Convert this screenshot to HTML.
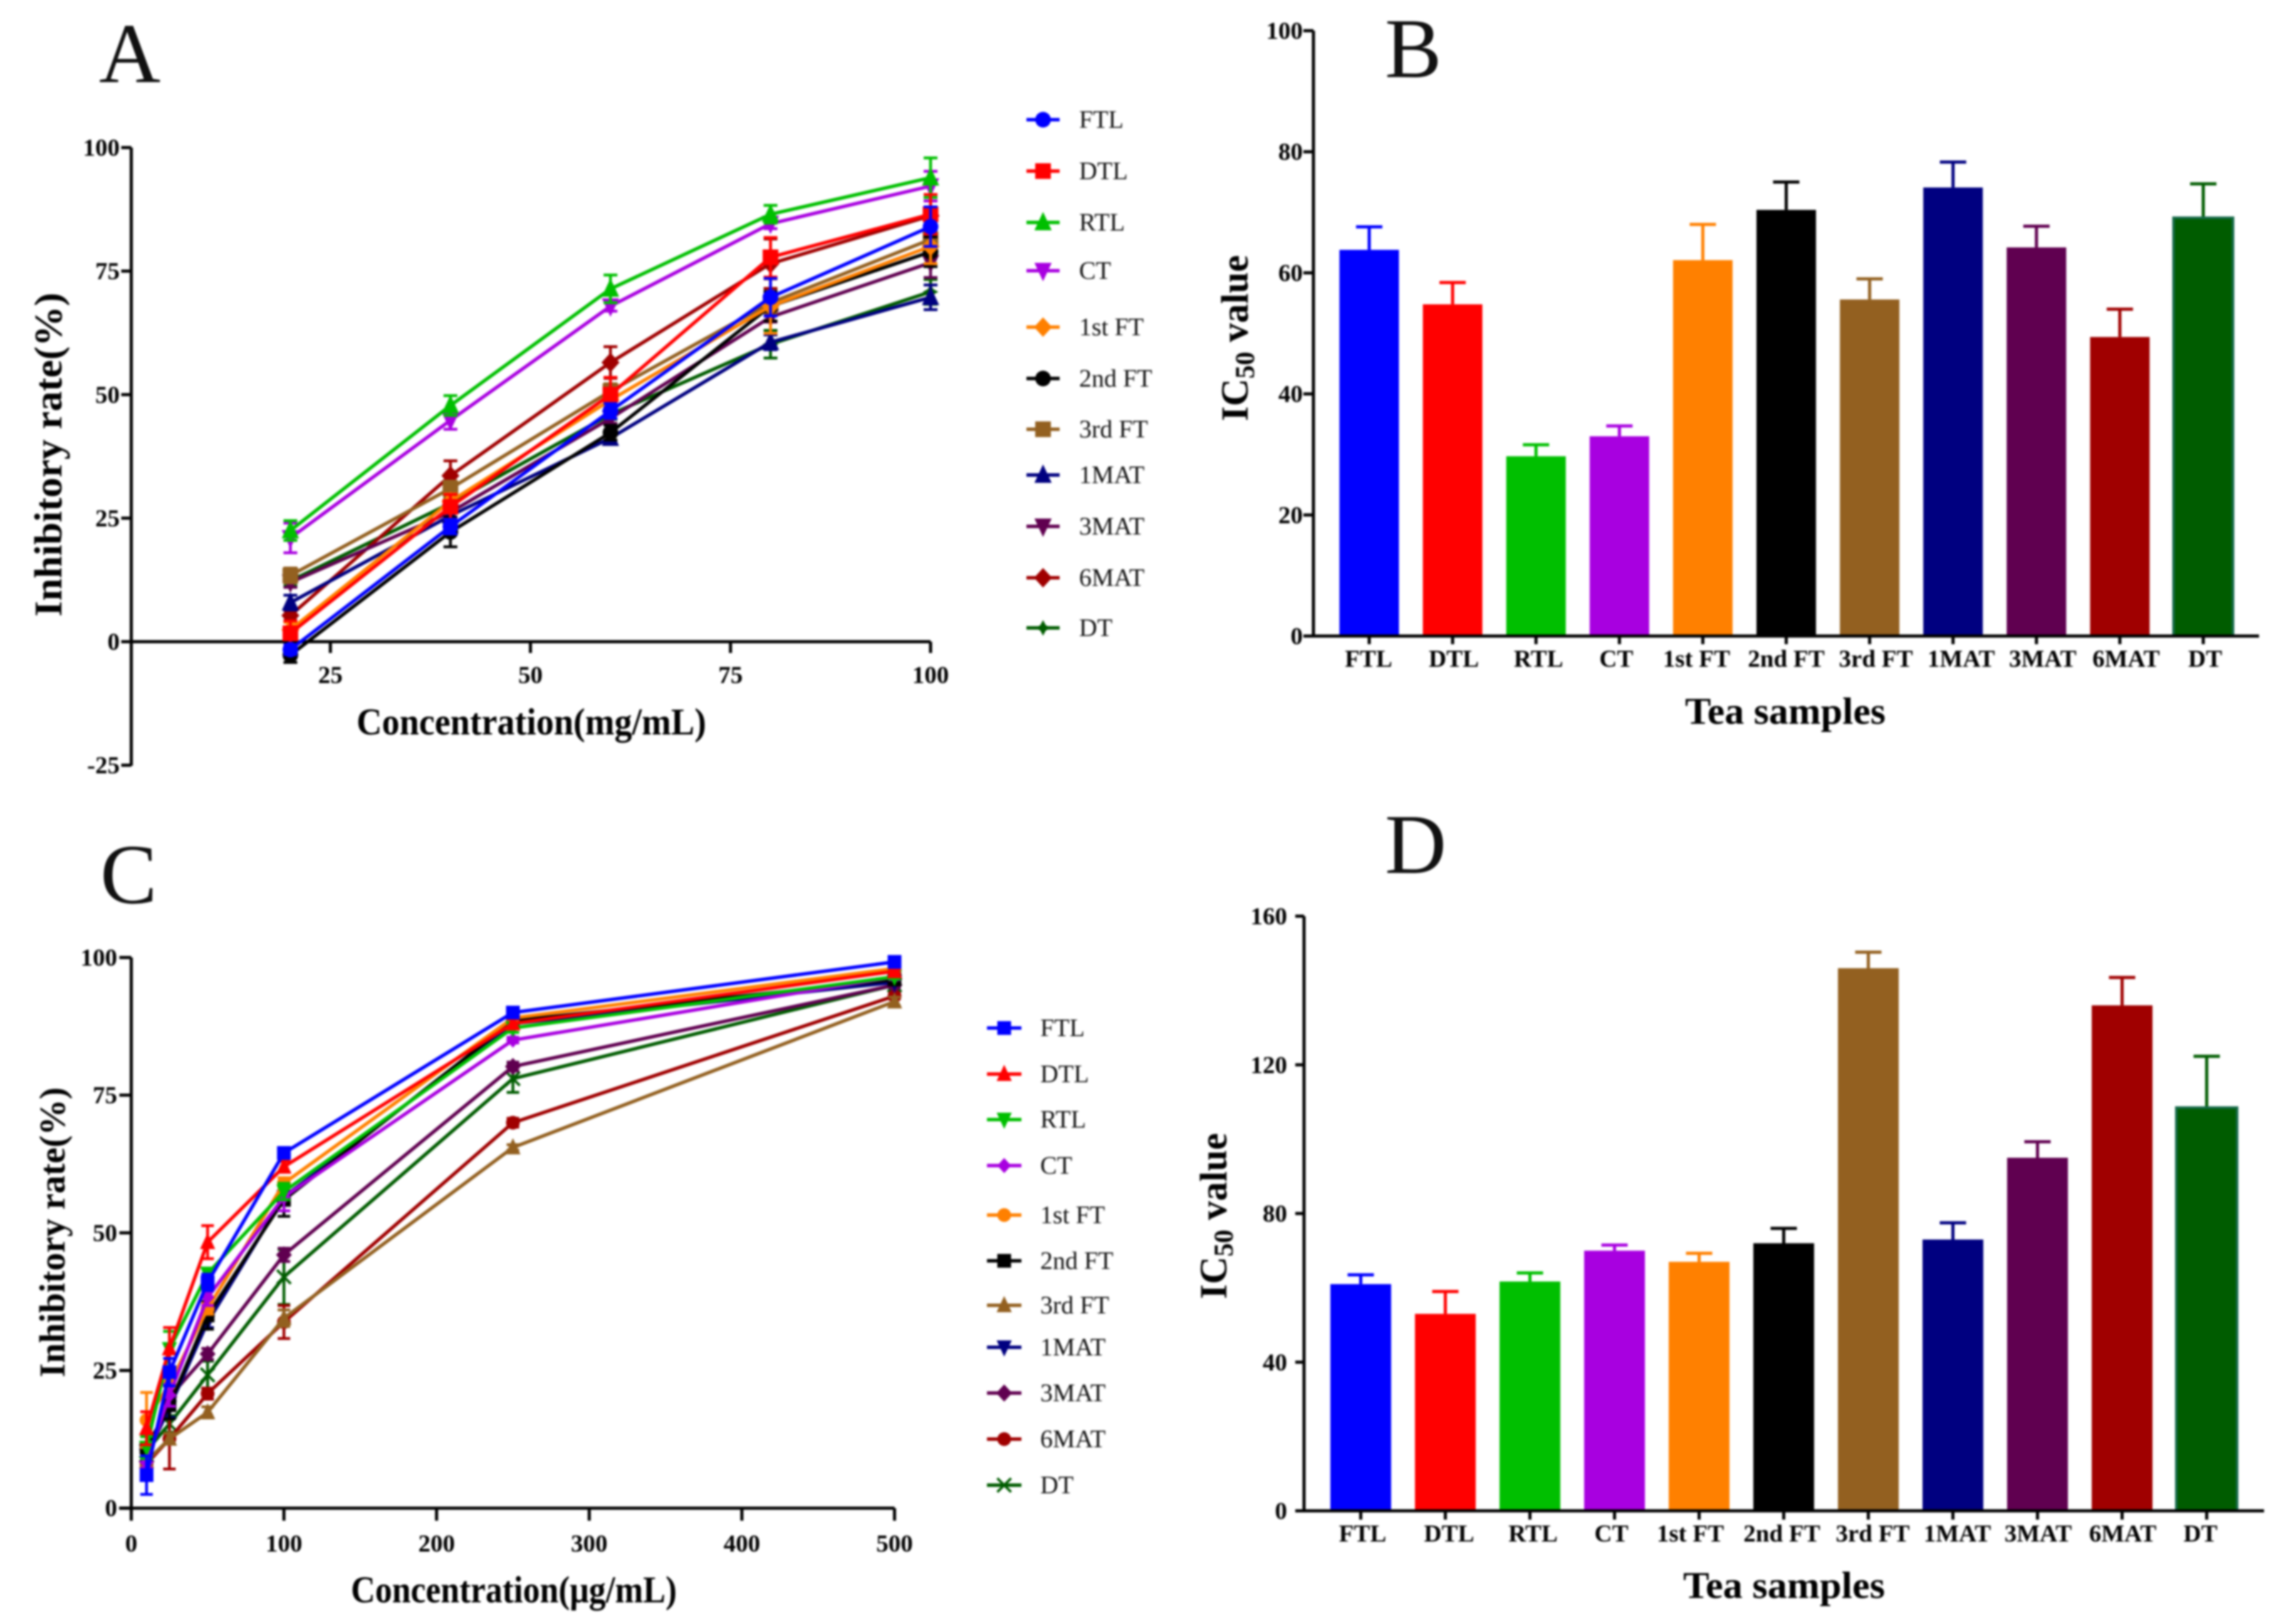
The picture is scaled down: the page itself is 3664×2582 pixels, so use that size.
<!DOCTYPE html>
<html lang="en">
<head>
<meta charset="utf-8">
<title>Inhibitory rate and IC50 charts</title>
<style>
html,body{margin:0;padding:0;background:#fff;}
#figure{display:block;width:3664px;height:2582px;filter:blur(1.5px);}
text{font-family:"Liberation Serif",serif;fill:#000;}
.tick{font-size:39px;font-weight:700;}
.title{font-size:60px;font-weight:700;}
.legend{font-size:40px;font-weight:400;fill:#111;}
.letter{font-size:136px;font-weight:400;fill:#111;}
</style>
</head>
<body>
<svg id="figure" xmlns="http://www.w3.org/2000/svg" width="3664" height="2582" viewBox="0 0 3664 2582">
  <rect x="0" y="0" width="3664" height="2582" fill="#fff"/>
  <text class="letter" x="158" y="131">A</text>
  <text class="letter" x="2210" y="123">B</text>
  <text class="letter" x="160" y="1441">C</text>
  <text class="letter" x="2210" y="1393">D</text>

  <text class="title" x="569" y="1172" textLength="558" lengthAdjust="spacingAndGlyphs">Concentration(mg/mL)</text>
  <text class="title" style="font-size:62px" transform="translate(98 984) rotate(-90)" textLength="517" lengthAdjust="spacingAndGlyphs">Inhibitory rate(%)</text>

  <text class="title" x="2689" y="1155" textLength="320" lengthAdjust="spacingAndGlyphs">Tea samples</text>
  <text class="title" style="font-size:61px" transform="translate(1991 672) rotate(-90)">IC<tspan font-size="43" dy="10">50</tspan><tspan dy="-10"> value</tspan></text>

  <text class="title" x="560" y="2557" textLength="520" lengthAdjust="spacingAndGlyphs">Concentration(μg/mL)</text>
  <text class="title" style="font-size:58px" transform="translate(103 2198) rotate(-90)" textLength="463" lengthAdjust="spacingAndGlyphs">Inhibitory rate(%)</text>

  <text class="title" x="2686" y="2550" textLength="322" lengthAdjust="spacingAndGlyphs">Tea samples</text>
  <text class="title" style="font-size:61px" transform="translate(1957 2073) rotate(-90)">IC<tspan font-size="43" dy="10">50</tspan><tspan dy="-10"> value</tspan></text>
</svg>
<script>
/* ---------- data ---------- */
const sampleNames = ['FTL','DTL','RTL','CT','1st FT','2nd FT','3rd FT','1MAT','3MAT','6MAT','DT'];

/* Panel A */
const aConcentrations = [20,40,60,80,100];
const aXTicks = [25,50,75,100];
const aYTicks = [100,75,50,25,0,-25];
const aFTL = [-1.6,23.3,46.7,69.7,84];
const aDTL = [1.7,27.3,50,77.8,86.5];
const aRTL = [22.5,47.8,71.4,86.5,93.9];
const aCT = [21,44.8,67.9,84.6,92.2];
const a1stFT = [2.4,28.4,48.9,67.9,80];
const a2ndFT = [-2.7,22.2,42.3,67.9,78.9];
const a3rdFT = [13.4,31,50.7,68.6,81.4];
const a1MAT = [7.9,25.5,41.2,60.6,69.7];
const a3MAT = [12,26.2,45.2,65.7,76.7];
const a6MAT = [5.3,33.6,56.5,76.5,86.2];
const aDT = [12.3,28,46,60.2,70.8];
const aFTLErr = [1,1.5,1.5,3.8,4];
const aDTLErr = [2.5,2.5,3.5,4,4];
const aRTLErr = [2,2,2.8,1.8,4];
const aCTErr = [3,1.8,1,1,3];
const a1stFTErr = [1.5,1.5,1.5,5.5,3.5];
const a2ndFTErr = [1.5,3,1.5,3,3];
const a3rdFTErr = [1.5,1.5,1.5,2,3];
const a1MATErr = [1.5,1.5,1,1.5,2.5];
const a3MATErr = [1,1,1,1,3];
const a6MATErr = [1,3,3.2,5,3];
const aDTErr = [1,1,1,2.8,2.5];

/* Panel B */
const bYTicks = [0,20,40,60,80,100];
const bValues = [63.8,54.8,29.7,33,62.1,70.4,55.6,74.1,64.2,49.4,69.1];
const bUpper = [67.6,58.4,31.6,34.7,68,75,59,78.3,67.7,54,74.7];

/* Panel C */
const cConcentrations = [10,25,50,100,250,500];
const cXTicks = [0,100,200,300,400,500];
const cYTicks = [0,25,50,75,100];
const cFTL = [6,24.7,41,64.5,90,99.2];
const cDTL = [14.5,29,48.3,62,88,97.5];
const cRTL = [11,28.9,42.6,57.5,87.2,96.5];
const cCT = [8.3,20.5,38.3,56.5,85,96.5];
const c1stFT = [16,22.5,36.2,59,89,98];
const c2ndFT = [11,18.7,35,56,88.5,96];
const c3rdFT = [8.5,12.6,17.4,34.5,65.5,92];
const c1MAT = [9.5,18.3,33.8,56.5,88,95.5];
const c3MAT = [8.5,20.2,28,46,80.2,95];
const c6MAT = [8,12.6,20.8,33.8,70,93];
const cDT = [10.4,15.3,24.2,42,78,95];
const cFTLErr = [3.5,2.5,1.5,0.8,0.8,0.5];
const cDTLErr = [3,3.8,3,1,0.8,0.3];
const cRTLErr = [2,3.2,1,1.5,0.8,0.4];
const cCTErr = [1,2,1.5,2.5,0.5,0.5];
const c1stFTErr = [5,2,1,1,0.5,0.3];
const c2ndFTErr = [2,2.5,2.5,3,0.5,0.5];
const c3rdFTErr = [0.5,1,1,1.5,0.5,0.8];
const c1MATErr = [1,1.8,1,1.5,0.5,0.5];
const c3MATErr = [0.5,1,1,1.2,0.8,0.5];
const c6MATErr = [0.5,5.5,1,3,0.8,0.5];
const cDTErr = [1,1.5,2.5,5,2.5,0.5];

/* Panel D */
const dYTicks = [0,40,80,120,160];
const dValues = [61,53,61.7,70,67,72,146,73,95,136,108.5];
const dUpper = [63.5,59,64,71.5,69.3,76,150.3,77.5,99.3,143.5,122.3];

const aMeans = [aFTL,aDTL,aRTL,aCT,a1stFT,a2ndFT,a3rdFT,a1MAT,a3MAT,a6MAT,aDT];
const aErrors = [aFTLErr,aDTLErr,aRTLErr,aCTErr,a1stFTErr,a2ndFTErr,a3rdFTErr,a1MATErr,a3MATErr,a6MATErr,aDTErr];
const cMeans = [cFTL,cDTL,cRTL,cCT,c1stFT,c2ndFT,c3rdFT,c1MAT,c3MAT,c6MAT,cDT];
const cErrors = [cFTLErr,cDTLErr,cRTLErr,cCTErr,c1stFTErr,c2ndFTErr,c3rdFTErr,c1MATErr,c3MATErr,c6MATErr,cDTErr];

/* ---------- style ---------- */
const palette = ['#0000ff','#ff0000','#00bf00','#a800e0','#ff8000','#000000','#936020','#000080','#600050','#a00000','#005c00'];
const aShapes = ['circle','square','up','down','diamond','circle','square','up','down','diamond','star'];
const cShapes = ['square','up','down','smalldiamond','circle','square','up','down','diamond','circle','cross'];

/* ---------- helpers ---------- */
const SVG_NS = 'http://www.w3.org/2000/svg';
const root = document.getElementById('figure');
function make(parent, tag, attrs) {
  const node = document.createElementNS(SVG_NS, tag);
  for (const key in attrs) node.setAttribute(key, attrs[key]);
  parent.appendChild(node);
  return node;
}
function linear(d0, d1, r0, r1) {
  return function (v) { return r0 + (v - d0) * (r1 - r0) / (d1 - d0); };
}
function slug(s) { return s.toLowerCase().replace(/\s+/g, '-'); }

function drawMarker(parent, shape, cx, cy, s, color) {
  let m;
  const pts = function (list) { return list.map(function (p) { return (cx + p[0] * s) + ',' + (cy + p[1] * s); }).join(' '); };
  if (shape === 'circle') {
    m = make(parent, 'circle', {cx: cx, cy: cy, r: s, fill: color});
  } else if (shape === 'square') {
    m = make(parent, 'rect', {x: cx - s, y: cy - s, width: 2 * s, height: 2 * s, fill: color});
  } else if (shape === 'up') {
    m = make(parent, 'polygon', {points: pts([[0,-1.35],[1.1,1],[-1.1,1]]), fill: color});
  } else if (shape === 'down') {
    m = make(parent, 'polygon', {points: pts([[0,1.35],[1.1,-1],[-1.1,-1]]), fill: color});
  } else if (shape === 'diamond') {
    m = make(parent, 'polygon', {points: pts([[0,-1.25],[1.15,0],[0,1.25],[-1.15,0]]), fill: color});
  } else if (shape === 'smalldiamond') {
    m = make(parent, 'polygon', {points: pts([[0,-1.1],[1,0],[0,1.1],[-1,0]]), fill: color});
  } else if (shape === 'star') {
    m = make(parent, 'polygon', {points: pts([[0,-1],[0.35,-0.35],[1,0],[0.35,0.35],[0,1],[-0.35,0.35],[-1,0],[-0.35,-0.35]]), fill: color});
  } else {
    m = make(parent, 'path', {d: 'M' + (cx - s) + ' ' + (cy - s) + 'L' + (cx + s) + ' ' + (cy + s) + 'M' + (cx + s) + ' ' + (cy - s) + 'L' + (cx - s) + ' ' + (cy + s), stroke: color, 'stroke-width': 4, fill: 'none'});
  }
  return m;
}

function drawAxes(panel, box, x, y, xTicks, yTicks) {
  const g = make(root, 'g', {});
  
  
  const yLine = make(g, 'line', {x1: box.axisX, x2: box.axisX, y1: box.yTop, y2: box.yBottom, stroke: '#000', 'stroke-width': 5});
  
  
  const xLine = make(g, 'line', {x1: box.xStart, x2: box.xEnd, y1: box.axisY, y2: box.axisY, stroke: '#000', 'stroke-width': 5});
  
  
  yTicks.forEach(function (t) {
    const tick = make(g, 'line', {x1: box.axisX - box.yTickLen, x2: box.axisX, y1: y(t), y2: y(t), stroke: '#000', 'stroke-width': 5});
    
    
    const label = make(g, 'text', {x: box.yLabelRight, y: y(t) + 13, 'text-anchor': 'end', 'class': 'tick'});
    label.textContent = String(t);
    
    
  });
  (xTicks || []).forEach(function (t) {
    const tick = make(g, 'line', {x1: x(t), x2: x(t), y1: box.axisY, y2: box.axisY + box.xTickLen, stroke: '#000', 'stroke-width': 5});
    
    
    const label = make(g, 'text', {x: x(t), y: box.xLabelY, 'text-anchor': 'middle', 'class': 'tick'});
    label.textContent = String(t);
    
    
  });
}

function drawLineChart(opt) {
  const x = opt.x, y = opt.y;
  drawAxes(opt.panel, opt.box, x, y, opt.xTicks, opt.yTicks);
  for (let i = sampleNames.length - 1; i >= 0; i--) {
    const color = palette[i];
    const name = slug(sampleNames[i]);
    const g = make(root, 'g', {});
    
    
    const means = opt.means[i], errs = opt.errors[i];
    const pathD = means.map(function (v, k) { return (k ? 'L' : 'M') + x(opt.concentrations[k]) + ' ' + y(v); }).join('');
    const line = make(g, 'path', {d: pathD, fill: 'none', stroke: color, 'stroke-width': 5.5, 'stroke-linejoin': 'round'});
    
    
    means.forEach(function (v, k) {
      const px = x(opt.concentrations[k]);
      const top = y(v + errs[k]), bottom = y(v - errs[k]);
      const w = opt.capHalf;
      const err = make(g, 'path', {d: 'M' + px + ' ' + top + 'V' + bottom + 'M' + (px - w) + ' ' + top + 'H' + (px + w) + 'M' + (px - w) + ' ' + bottom + 'H' + (px + w), fill: 'none', stroke: color, 'stroke-width': 4.5});
      
      
      const pt = drawMarker(g, opt.shapes[i], px, y(v), opt.markerSize, color);
      
      
    });
  }
  const lg = make(root, 'g', {});
  
  
  sampleNames.forEach(function (label, i) {
    const cy = opt.legend.rows[i];
    const entry = make(lg, 'g', {});
    
    
    make(entry, 'line', {x1: opt.legend.x0, x2: opt.legend.x1, y1: cy, y2: cy, stroke: palette[i], 'stroke-width': 5.5});
    drawMarker(entry, opt.shapes[i], (opt.legend.x0 + opt.legend.x1) / 2, cy, opt.markerSize, palette[i]);
    const t = make(entry, 'text', {x: opt.legend.textX, y: cy + 13, 'class': 'legend'});
    t.textContent = label;
  });
}

function drawBarChart(opt) {
  const y = opt.y;
  const cx = function (i) { return opt.firstCenter + i * opt.spacing; };
  drawAxes(opt.panel, opt.box, null, y, null, opt.yTicks);
  sampleNames.forEach(function (label, i) {
    const name = slug(label);
    const color = palette[i];
    const g = make(root, 'g', {});
    
    
    const top = y(opt.upper[i]);
    const err = make(g, 'path', {d: 'M' + cx(i) + ' ' + y(opt.values[i]) + 'V' + top + 'M' + (cx(i) - 21) + ' ' + top + 'H' + (cx(i) + 21), fill: 'none', stroke: color, 'stroke-width': 5});
    
    
    const isDT = label === 'DT';
    const bar = make(g, 'rect', {x: cx(i) - opt.barWidth / 2, y: y(opt.values[i]), width: opt.barWidth, height: y(0) - y(opt.values[i]), fill: color, stroke: isDT ? '#156a4a' : 'none', 'stroke-width': isDT ? 4 : 0});
    
    
    const tick = make(g, 'line', {x1: cx(i), x2: cx(i), y1: opt.box.axisY, y2: opt.box.axisY + opt.box.xTickLen, stroke: '#000', 'stroke-width': 5});
    
    
    const t = make(g, 'text', {x: cx(i) + opt.labelNudge[i], y: opt.box.xLabelY, 'text-anchor': 'middle', 'class': 'tick'});
    t.textContent = label;
    
    
  });
  /* redraw baseline over the bars */
  const base = make(root, 'line', {x1: opt.box.xStart, x2: opt.box.xEnd, y1: opt.box.axisY, y2: opt.box.axisY, stroke: '#000', 'stroke-width': 5});
  
  
}

/* ---------- panels ---------- */
drawLineChart({
  panel: 'panel-a',
  x: linear(0, 100, 208, 1485),
  y: linear(0, 100, 1024, 235.5),
  xTicks: aXTicks, yTicks: aYTicks,
  concentrations: aConcentrations, means: aMeans, errors: aErrors,
  shapes: aShapes, markerSize: 12.5, capHalf: 11,
  box: {axisX: 209.5, axisY: 1024, yTop: 235.5, yBottom: 1222, xStart: 195, xEnd: 1485, yTickLen: 16, xTickLen: 18, yLabelRight: 191, xLabelY: 1090},
  legend: {x0: 1638, x1: 1691, textX: 1722, rows: [191,273,355,432,522,604,685,758,840,922,1002]}
});

drawBarChart({
  panel: 'panel-b',
  y: linear(0, 100, 1015, 49),
  yTicks: bYTicks, values: bValues, upper: bUpper,
  firstCenter: 2185, spacing: 133.1, barWidth: 95,
  labelNudge: [-1,2,4,-5,-10,0,10,13,10,10,3],
  box: {axisX: 2096, axisY: 1015, yTop: 49, yBottom: 1015, xStart: 2081, xEnd: 3605, yTickLen: 16, xTickLen: 13, yLabelRight: 2079, xLabelY: 1064}
});

drawLineChart({
  panel: 'panel-c',
  x: linear(0, 500, 209.5, 1427.5),
  y: linear(0, 100, 2406.7, 1528),
  xTicks: cXTicks, yTicks: cYTicks,
  concentrations: cConcentrations, means: cMeans, errors: cErrors,
  shapes: cShapes, markerSize: 11, capHalf: 10,
  box: {axisX: 209.5, axisY: 2406.7, yTop: 1528, yBottom: 2426, xStart: 190, xEnd: 1427.5, yTickLen: 19, xTickLen: 20, yLabelRight: 187, xLabelY: 2476},
  legend: {x0: 1575, x1: 1630, textX: 1660, rows: [1640.5,1714,1786.6,1860,1939,2012,2083,2150,2223,2296.5,2370]}
});

drawBarChart({
  panel: 'panel-d',
  y: linear(0, 160, 2411, 1462),
  yTicks: dYTicks, values: dValues, upper: dUpper,
  firstCenter: 2171.5, spacing: 135, barWidth: 97,
  labelNudge: [3,6,5,-5,-14,-3,7,7,1,1,-10],
  box: {axisX: 2081, axisY: 2411, yTop: 1462, yBottom: 2411, xStart: 2067, xEnd: 3613, yTickLen: 14, xTickLen: 14, yLabelRight: 2054, xLabelY: 2460}
});
</script>
</body>
</html>
